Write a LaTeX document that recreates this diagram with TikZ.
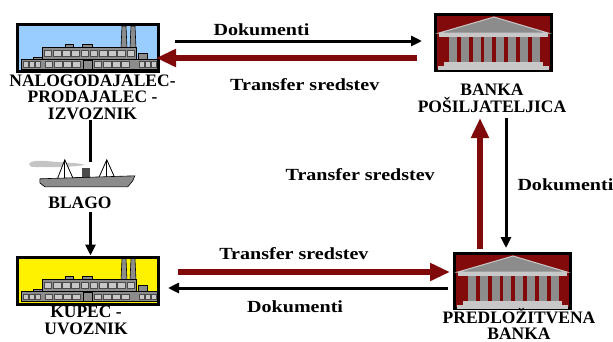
\documentclass[tikz,border=0pt]{standalone}
\usepackage{fontspec}
\setmainfont{Liberation Serif}
\newfontfamily\widefont{Liberation Serif}[FakeStretch=1.18]
\usetikzlibrary{positioning}
\usetikzlibrary{arrows.meta}
\definecolor{skyblue}{HTML}{99CCFF}
\definecolor{bankred}{HTML}{820A0A}
\definecolor{flowred}{HTML}{800A0A}
\definecolor{stone}{HTML}{8C8C8C}
\definecolor{lightstone}{HTML}{C8C8C8}
\definecolor{darkstone}{HTML}{4A4A4A}
\definecolor{smokegray}{HTML}{C4C4C4}
\tikzset {
  % framed picture boxes
  iconframe/.style={draw, line width=3pt, inner sep=0pt},
  factorybox/.style={iconframe, minimum width=141pt, minimum height=47pt},
  bankbox/.style={iconframe, fill=bankred, minimum width=116pt, minimum height=56pt},
  % captions under the pictures
  caption/.style={font=\fontsize{17.5}{16.5}\selectfont\bfseries, align=center, inner sep=0pt},
  % labels of the flows
  flowlabel/.style={text=black, font=\widefont\fontsize{17}{18}\selectfont\bfseries, inner sep=0pt},
  % documents (black) and money (red)
  doc/.style={line width=3pt, -{Triangle[length=11pt,width=10pt]}},
  money/.style={flowred, line width=6.5pt, -{Triangle[length=20pt,width=17pt]}},
  link/.style={line width=2.5pt},
  % clip art parts
  plant/.style={fill=stone, draw=black, line width=0.6pt},
  pane/.style={fill=lightstone, draw=darkstone, line width=0.5pt},
  column/.style={fill=stone},
  marble/.style={fill=lightstone},
  factory/.pic={
    \filldraw[plant] (106,3) -- (110,3) -- (111,25) -- (105,25) -- cycle;
    \filldraw[plant] (115,3) -- (119,3) -- (120,25) -- (114,25) -- cycle;
    \filldraw[plant] (49,21) rectangle (57,24);
    \filldraw[plant] (66,21) rectangle (76,24);
    \filldraw[plant] (26,24) rectangle (120,37);
    \filldraw[plant] (122,30) rectangle (131,37);
    \filldraw[plant] (17,34) rectangle (26,37);
    \filldraw[plant] (5,36) rectangle (141,46);
    \foreach \i in {0,...,9}
      \filldraw[pane] ({28+9.2*\i},27) rectangle +(7.6,6);
    \foreach \i in {0,...,3} {
      \filldraw[pane] ({29+9.2*\i},38.5) rectangle +(7.6,5.5);
      \filldraw[pane] ({78+9.2*\i},38.5) rectangle +(7.6,5.5);
    }
    \foreach \i in {0,1,2} {
      \filldraw[pane] ({7+6*\i},38.5) rectangle +(5,5.5);
      \filldraw[pane] ({123+6*\i},38.5) rectangle +(5,5.5);
    }
    \filldraw[plant] (67,37) rectangle (76,46);
  },
  bank/.pic={
    \filldraw[column, draw=lightstone, line width=1pt] (5,20) -- (60,4) -- (114,20) -- cycle;
    \fill[marble] (5,20) rectangle (114,24);
    \foreach \i in {0,...,7}
      \fill[column] ({15+11.8*\i},24) rectangle +(8,25);
    \fill[marble] (10,49) rectangle (109,53);
    \fill[marble] (4,53) rectangle (115,57);
  },
  steamer/.pic={
    \fill[smokegray] (0,4) .. controls (5,1) and (15,2) .. (25,3)
      .. controls (38,4) and (48,4) .. (55,6)
      .. controls (48,8) and (20,9) .. (2,8)
      .. controls (-1,7) and (-1,5) .. (0,4);
    \draw[line width=0.8pt, fill=white] (28,19) -- (35,1) -- (43,19);
    \draw[line width=0.8pt] (35,1) -- (35,19);
    \draw[line width=0.8pt, fill=white] (69,19) -- (77,1) -- (85,19);
    \draw[line width=0.8pt] (77,1) -- (77,19);
    \fill[darkstone] (52,9) rectangle (60,19);
    \filldraw[plant] (45,18) rectangle (67,22);
    \foreach \i in {0,...,6}
      \fill[black] ({47+2.8*\i},19.5) rectangle +(1.4,1.5);
    \filldraw[plant] (10,20) -- (105,17) -- (103,22) -- (98,28) -- (15,28) -- (10,24) -- cycle;
  },
}
\begin{document}
\begin{tikzpicture}[x=1pt, y=-1pt]
  \useasboundingbox (0,0) rectangle (613,341);

  \node[factorybox, fill=skyblue] (seller) at (88,48) {};
  \node[factorybox, fill=yellow] (buyer) at (88,280.5) {};
  \node[bankbox] (sendbank) at (493.5,42.5) {};
  \node[bankbox, minimum height=55pt] (predbank) at (512.5,281) {};
  \node[inner sep=0pt, minimum width=105pt, minimum height=29pt] (ship) at (82.5,173.5) {};
  \pic at (seller.north west) {factory};
  \pic at (buyer.north west) {factory};
  \pic at (sendbank.north west) {bank};
  \pic at (predbank.north west) {bank};
  \pic at (ship.north west) {steamer};
  \coordinate (funnel) at (90.5,162);

  \node[caption, below=1.5pt of seller, xshift=4.5pt] (sellerlabel) {NALOGODAJALEC-\\PRODAJALEC -\\IZVOZNIK};
  \node[caption, below=12pt of sendbank, xshift=-1.5pt] (sendlabel) {BANKA\\POŠILJATELJICA};
  \node[caption, below=9pt of ship, xshift=-2.5pt] (blago) {BLAGO};
  \node[caption, below=0.5pt of buyer, xshift=-2pt] (buyerlabel) {KUPEC -\\UVOZNIK};
  \node[caption, below=-2pt of predbank, xshift=6.5pt] (predlabel) {PREDLOŽITVENA\\BANKA};

  \draw[link] (sellerlabel.south -| funnel) -- (funnel);
  \draw[doc, shorten <=3pt] (blago.south -| funnel) -- (buyer.north -| funnel);

  \draw[doc] ([xshift=15pt,yshift=7pt]seller.east) -- node[flowlabel, pos=0.35, above=4pt] {Dokumenti} ([xshift=-12pt,yshift=1.5pt]sendbank.west);
  \draw[money] ([xshift=-17pt,yshift=-15.5pt]sendbank.west) -- node[flowlabel, pos=0.43, below=17pt] {Transfer sredstev} ([xshift=-4pt,yshift=-10pt]seller.east);
  \draw[money] ([xshift=-32.5pt,yshift=3pt]predbank.north) -- node[flowlabel, pos=0.565, left=42pt] {Transfer sredstev} ([xshift=-13.5pt,yshift=-46pt]sendbank.south);
  \draw[doc] ([xshift=12.5pt,yshift=-46pt]sendbank.south) -- node[flowlabel, pos=0.51, right=10pt] {Dokumenti} ([xshift=-6.5pt,yshift=4pt]predbank.north);
  \draw[money] ([xshift=18pt,yshift=8.5pt]buyer.east) -- node[flowlabel, pos=0.426, above=9pt] {Transfer sredstev} ([xshift=-3pt,yshift=9pt]predbank.west);
  \draw[doc] ([xshift=-5pt,yshift=-7pt]predbank.west) -- node[flowlabel, pos=0.546, below=11pt] {Dokumenti} ([xshift=8pt,yshift=-7.5pt]buyer.east);
\end{tikzpicture}
\end{document}
